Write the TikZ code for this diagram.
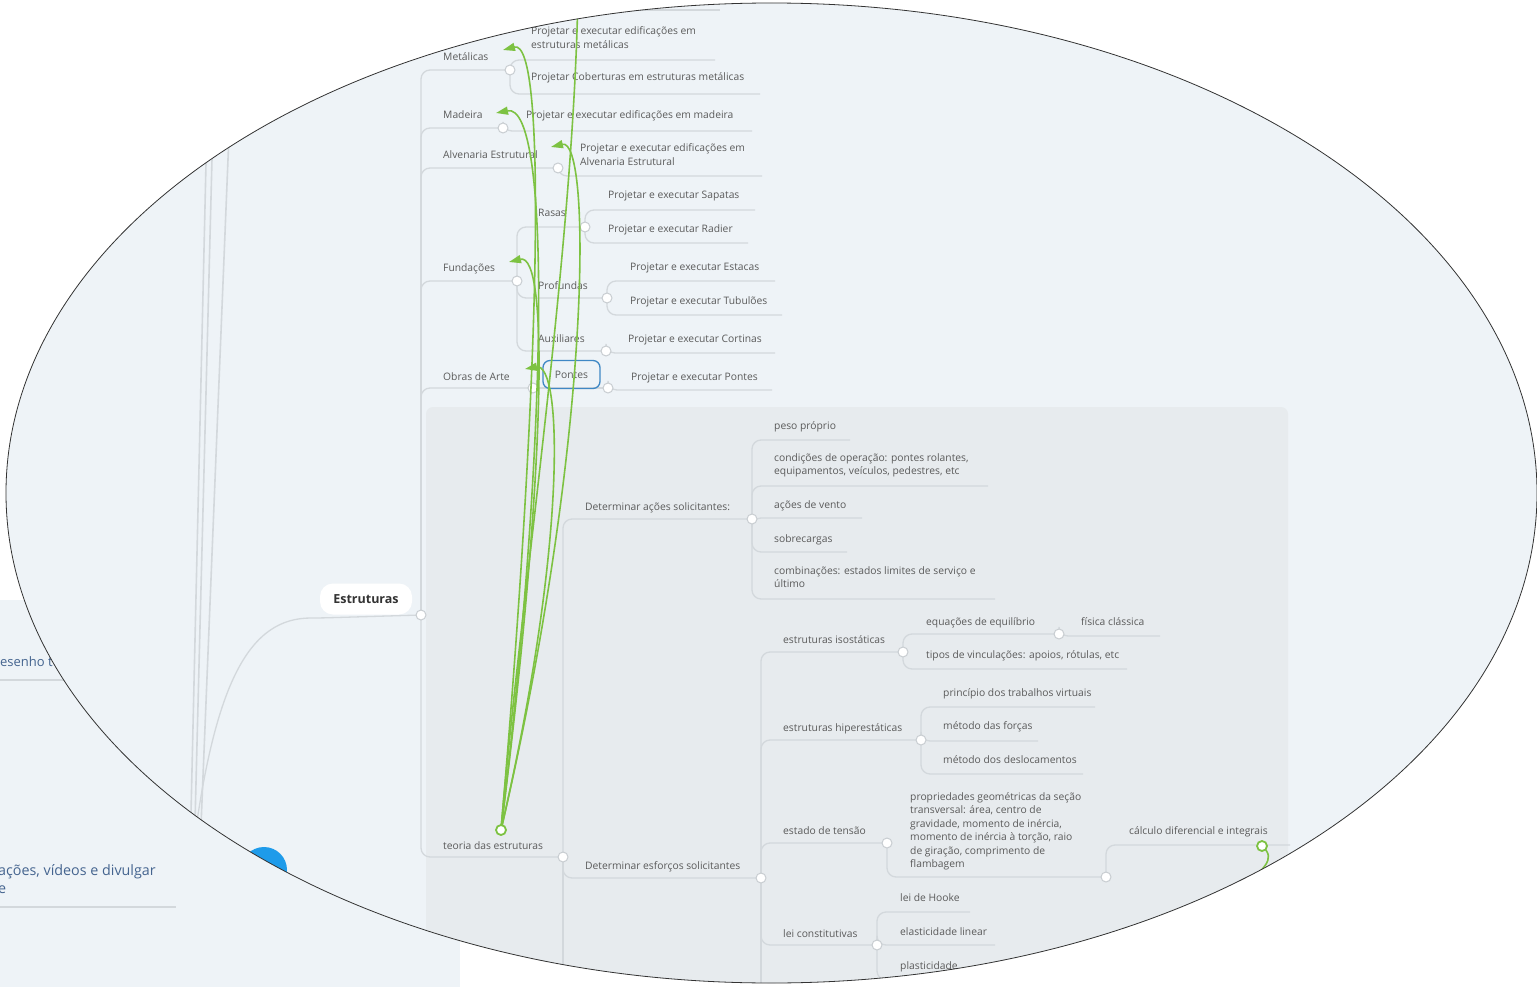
\documentclass[tikz,border=0pt]{standalone}
\usepackage{fontspec}
\setmainfont{Open Sans}
\usetikzlibrary{arrows.meta}
\definecolor{bgmap}{HTML}{EEF3F7}
\definecolor{panelgrey}{HTML}{E7EBEE}
\definecolor{txtgrey}{HTML}{5A5A5A}
\definecolor{linegrey}{HTML}{D3D8DC}
\definecolor{ringgrey}{HTML}{C8CDD1}
\definecolor{linkgreen}{HTML}{7DC242}
\definecolor{selblue}{HTML}{3F88C5}
\definecolor{rootblue}{HTML}{1E9BEA}
\definecolor{deeptxt}{HTML}{44648F}
\tikzset{
  lbl/.style={anchor=base west, inner sep=0pt, text=txtgrey, align=left, font=\fontsize{10.3}{13.5}\selectfont},
  bigtxt/.style={anchor=base west, inner sep=0pt, text=deeptxt, align=left, font=\fontsize{13}{18}\selectfont},
  br/.style={draw=linegrey, line width=1.3pt, rounded corners=9pt},
  trunk/.style={draw=linegrey, line width=1.6pt},
  jn/.style={circle, draw=ringgrey, fill=white, line width=1pt, minimum size=10pt, inner sep=0pt},
  gjn/.style={jn, draw=linkgreen, line width=1.8pt},
  link/.style={draw=linkgreen, line width=1.6pt},
  linkarr/.style={link, -{Triangle[length=12pt,width=8pt]}},
  rootbox/.style={fill=white, rounded corners=13pt, minimum width=92pt, minimum height=31pt, inner sep=0pt, text=black!80, font=\fontsize{12.5}{15}\selectfont\bfseries},
  selbox/.style={draw=selblue, line width=1.3pt, rounded corners=7pt, minimum width=57pt, minimum height=28pt, inner sep=0pt, text=txtgrey, font=\fontsize{10.3}{13.5}\selectfont}
}
\begin{document}
\begin{tikzpicture}[x=1pt, y=-1pt]
\path[use as bounding box, fill=white] (0,0) rectangle (1537,987);

\fill[bgmap] (0,600) rectangle (460,987);
\node[bigtxt] (tDes) at (0,666) {esenho t};
\node[bigtxt, font=\fontsize{14.3}{18}\selectfont] (tAco) at (-2,893) {ações, vídeos e divulgar\\e};
\draw[draw=linegrey, line width=1.5pt] (0,680) -- (90,680);
\draw[draw=linegrey, line width=1.5pt] (0,907) -- (176,907);

\begin{scope}
\clip (771.5,493) ellipse [x radius=765.5pt, y radius=490pt];
\fill[bgmap] (0,0) rectangle (1537,987);
\fill[panelgrey, rounded corners=7pt] (426,407) rectangle (1288,1010);
\fill[rootblue] (264,870) circle (23pt);

\draw[trunk] (207,120) -- (189,900);
\draw[trunk] (213,120) -- (193,900);
\draw[trunk] (230,110) -- (198,900);
\draw[br] (440,10) -- (720,10);

\coordinate (mRoot) at (193,850);
\coordinate (jEst) at (421,615);
\coordinate (jMet) at (510,70);
\coordinate (jMad) at (503,128);
\coordinate (jAlv) at (558,168);
\coordinate (jFun) at (517,281);
\coordinate (jRas) at (585,227);
\coordinate (jPro) at (607,298);
\coordinate (jAux) at (606,351);
\coordinate (jObr) at (533,388);
\coordinate (jPon) at (608,388);
\coordinate (jTeo) at (563,857);
\coordinate (jAco) at (752,519);
\coordinate (jEsf) at (761,878);
\coordinate (jIso) at (903,652);
\coordinate (jEqu) at (1059,634);
\coordinate (jHip) at (921,740);
\coordinate (jTen) at (887,843);
\coordinate (jPrp) at (1106,877);
\coordinate (jLei) at (877,945);

\coordinate (eEdMet) at (715,60);
\coordinate (eCob) at (760,94);
\coordinate (eEdMad) at (752,131);
\coordinate (eEdAlv) at (762,176);
\coordinate (eSap) at (755,210);
\coordinate (eRad) at (748,243);
\coordinate (eEst) at (775,281);
\coordinate (eTub) at (782,315);
\coordinate (eCor) at (775,353);
\coordinate (ePon) at (772,390);
\coordinate (ePes) at (850,440);
\coordinate (eCon) at (988,486);
\coordinate (eVen) at (862,518);
\coordinate (eSob) at (847,552);
\coordinate (eCom) at (995,599);
\coordinate (eFis) at (1160,636);
\coordinate (eTip) at (1127,669);
\coordinate (ePri) at (1095,707);
\coordinate (eFor) at (1038,741);
\coordinate (eDsl) at (1083,774);
\coordinate (eCal) at (1290,845);
\coordinate (eHoo) at (970,912);
\coordinate (eEla) at (995,945);
\coordinate (ePla) at (1000,980);

\draw[br] (jEst) -- (320,618) .. controls (250,618) and (215,680) .. (mRoot);
\draw[br] (jEst) |- (jMet);
\draw[br] (jEst) |- (jMad);
\draw[br] (jEst) |- (jAlv);
\draw[br] (jEst) |- (jFun);
\draw[br] (jEst) |- (jObr);
\draw[br] (jEst) |- (jTeo);
\draw[br] (jMet) |- (eEdMet);
\draw[br] (jMet) |- (eCob);
\draw[br] (jMad) |- (eEdMad);
\draw[br] (jAlv) |- (eEdAlv);
\draw[br] (jFun) |- (jRas);
\draw[br] (jFun) |- (jPro);
\draw[br] (jFun) |- (jAux);
\draw[br] (jRas) |- (eSap);
\draw[br] (jRas) |- (eRad);
\draw[br] (jPro) |- (eEst);
\draw[br] (jPro) |- (eTub);
\draw[br] (jAux) |- (eCor);
\draw[br] (jObr) -- (jPon);
\draw[br] (jPon) |- (ePon);
\draw[br] (jTeo) |- (jAco);
\draw[br] (jTeo) |- (jEsf);
\draw[br] (jTeo) -- (563,1010);
\draw[br] (jAco) |- (ePes);
\draw[br] (jAco) |- (eCon);
\draw[br] (jAco) |- (eVen);
\draw[br] (jAco) |- (eSob);
\draw[br] (jAco) |- (eCom);
\draw[br] (jEsf) |- (jIso);
\draw[br] (jEsf) |- (jHip);
\draw[br] (jEsf) |- (jTen);
\draw[br] (jEsf) |- (jLei);
\draw[br] (jEsf) -- (761,1010);
\draw[br] (jIso) |- (jEqu);
\draw[br] (jIso) |- (eTip);
\draw[br] (jEqu) |- (eFis);
\draw[br] (jHip) |- (ePri);
\draw[br] (jHip) |- (eFor);
\draw[br] (jHip) |- (eDsl);
\draw[br] (jTen) |- (jPrp);
\draw[br] (jPrp) |- (eCal);
\draw[br] (jLei) |- (eHoo);
\draw[br] (jLei) |- (eEla);
\draw[br] (jLei) |- (ePla);

\foreach \j in {jEst,jMet,jMad,jAlv,jFun,jRas,jPro,jAux,jObr,jPon,jTeo,jAco,jEsf,jIso,jEqu,jHip,jTen,jPrp,jLei}
  \node[jn] (c\j) at (\j) {};

\node[rootbox] (nEst) at (366,599) {Estruturas};
\node[lbl] (nMet) at (443,61) {Metálicas};
\node[lbl] (nEdMet) at (531,48.5) {Projetar e executar edificações em\\estruturas metálicas};
\node[lbl] (nCob) at (531,81) {Projetar Coberturas em estruturas metálicas};
\node[lbl] (nMad) at (443,119) {Madeira};
\node[lbl] (nEdMad) at (526,119) {Projetar e executar edificações em madeira};
\node[lbl] (nAlv) at (443,159) {Alvenaria Estrutural};
\node[lbl] (nEdAlv) at (580,165.5) {Projetar e executar edificações em\\Alvenaria Estrutural};
\node[lbl] (nFun) at (443,272) {Fundações};
\node[lbl] (nRas) at (538,217) {Rasas};
\node[lbl] (nSap) at (608,199) {Projetar e executar Sapatas};
\node[lbl] (nRad) at (608,233) {Projetar e executar Radier};
\node[lbl] (nPro) at (538,289) {Profundas};
\node[lbl] (nEst2) at (630,270) {Projetar e executar Estacas};
\node[lbl] (nTub) at (630,304) {Projetar e executar Tubulões};
\node[lbl] (nAux) at (538,342) {Auxiliares};
\node[lbl] (nCor) at (628,342) {Projetar e executar Cortinas};
\node[lbl] (nObr) at (443,380) {Obras de Arte};
\node[selbox] (nPon) at (571.5,374.5) {Pontes};
\node[lbl] (nPonC) at (631,380) {Projetar e executar Pontes};
\node[lbl] (nTeo) at (443,849) {teoria das estruturas};
\node[lbl] (nAco) at (585,510) {Determinar ações solicitantes:};
\node[lbl] (nPes) at (774,429) {peso próprio};
\node[lbl] (nCon) at (774,474.5) {condições de operação: pontes rolantes,\\equipamentos, veículos, pedestres, etc};
\node[lbl] (nVen) at (774,508) {ações de vento};
\node[lbl] (nSob) at (774,542) {sobrecargas};
\node[lbl] (nCom) at (774,587.5) {combinações: estados limites de serviço e\\último};
\node[lbl] (nEsf) at (585,869) {Determinar esforços solicitantes};
\node[lbl] (nIso) at (783,643) {estruturas isostáticas};
\node[lbl] (nEqu) at (926,625) {equações de equilíbrio};
\node[lbl] (nFis) at (1081,625) {física clássica};
\node[lbl] (nTip) at (926,658) {tipos de vinculações: apoios, rótulas, etc};
\node[lbl] (nHip) at (783,731) {estruturas hiperestáticas};
\node[lbl] (nPri) at (943,696) {princípio dos trabalhos virtuais};
\node[lbl] (nFor) at (943,729) {método das forças};
\node[lbl] (nDsl) at (943,763) {método dos deslocamentos};
\node[lbl] (nTen) at (783,834) {estado de tensão};
\node[lbl] (nPrp) at (910,867.5) {propriedades geométricas da seção\\transversal: área, centro de\\gravidade, momento de inércia,\\momento de inércia à torção, raio\\de giração, comprimento de\\flambagem};
\node[lbl] (nCal) at (1129,834) {cálculo diferencial e integrais};
\node[lbl] (nLei) at (783,937) {lei constitutivas};
\node[lbl] (nHoo) at (900,901) {lei de Hooke};
\node[lbl] (nEla) at (900,935) {elasticidade linear};
\node[lbl] (nPla) at (900,969) {plasticidade};

\coordinate (gTeo) at (501,830);
\coordinate (gCal) at (1262,846);
\coordinate (aMet) at (503,50);
\coordinate (aMad) at (496,113);
\coordinate (aAlv) at (551,147);
\coordinate (aFun) at (509,262);
\coordinate (aObr) at (525,369);
\coordinate (aTop) at (578,-10);
\coordinate (aOut) at (1238,895);
\draw[linkarr] (gTeo) .. controls (540,380) and (548,38) .. (aMet);
\draw[linkarr] (gTeo) .. controls (548,440) and (552,102) .. (aMad);
\draw[linkarr] (gTeo) .. controls (592,440) and (592,137) .. (aAlv);
\draw[linkarr] (gTeo) .. controls (545,480) and (550,252) .. (aFun);
\draw[linkarr] (gTeo) .. controls (568,540) and (562,362) .. (aObr);
\draw[link] (gTeo) .. controls (520,600) and (574,250) .. (aTop);
\draw[link] (gCal) .. controls (1278,860) and (1262,868) .. (aOut);
\node[gjn] (cgTeo) at (gTeo) {};
\node[gjn] (cgCal) at (gCal) {};
\end{scope}

\draw[black!80, line width=0.8pt] (771.5,493) ellipse [x radius=765.5pt, y radius=490pt];
\end{tikzpicture}
\end{document}
